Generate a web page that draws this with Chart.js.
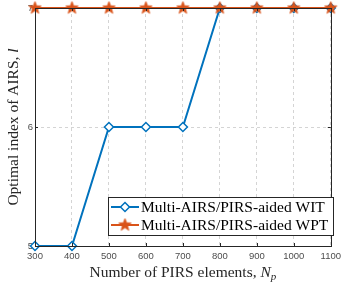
<!DOCTYPE html>
<html>
<head>
<meta charset="utf-8">
<script src="https://cdn.jsdelivr.net/npm/chart.js@4/dist/chart.umd.min.js"></script>
<style>
  html, body { margin: 0; padding: 0; background: #fff; }
  #wrap { width: 346px; height: 286px; }
</style>
</head>
<body>
<div id="wrap"><canvas id="grafica" width="346" height="286"></canvas></div>
<script>
// datos
const elementos = [300, 400, 500, 600, 700, 800, 900, 1000, 1100];
const indiceWIT = [5, 5, 6, 6, 6, 7, 7, 7, 7];
const indiceWPT = [7, 7, 7, 7, 7, 7, 7, 7, 7];
const ticksY = [5, 6, 7];
const nombres = ["Multi-AIRS/PIRS-aided WIT", "Multi-AIRS/PIRS-aided WPT"];

const azul = "#0072BD";
const naranja = "#D95319";

// estrella rellena para WPT
function hacerEstrella(r) {
  const c = document.createElement("canvas");
  const s = Math.ceil(r * 2 + 2);
  c.width = s; c.height = s;
  const g = c.getContext("2d");
  g.translate(s / 2, s / 2);
  g.beginPath();
  for (let i = 0; i < 10; i++) {
    const rr = i % 2 == 0 ? r : r * 0.42;
    const a = -Math.PI / 2 + i * Math.PI / 5;
    g.lineTo(rr * Math.cos(a), rr * Math.sin(a));
  }
  g.closePath();
  g.fillStyle = naranja;
  g.fill();
  g.strokeStyle = naranja;
  g.lineWidth = 0.8;
  g.stroke();
  return c;
}
const estrella = hacerEstrella(6.5);

const serif = "'Liberation Serif', 'DejaVu Serif', serif";
const tam = 15.5;

// caja, marcas interiores, titulos y leyenda
const extras = {
  id: "extras",
  afterDatasetsDraw(chart) {
    const ctx = chart.ctx;
    const a = chart.chartArea;
    const sx = chart.scales.x, sy = chart.scales.y;
    ctx.save();
    ctx.strokeStyle = "#262626";
    ctx.lineWidth = 1;
    ctx.strokeRect(Math.round(a.left) + 0.5, Math.round(a.top) + 0.5, Math.round(a.right - a.left), Math.round(a.bottom - a.top));
    ctx.beginPath();
    elementos.forEach(v => {
      const x = Math.round(sx.getPixelForValue(v)) + 0.5;
      ctx.moveTo(x, a.bottom); ctx.lineTo(x, a.bottom - 3);
      ctx.moveTo(x, a.top); ctx.lineTo(x, a.top + 3);
    });
    ticksY.forEach(v => {
      const y = Math.round(sy.getPixelForValue(v)) + 0.5;
      ctx.moveTo(a.left, y); ctx.lineTo(a.left + 3, y);
      ctx.moveTo(a.right, y); ctx.lineTo(a.right - 3, y);
    });
    ctx.stroke();

    // titulo eje x
    ctx.fillStyle = "#262626";
    ctx.textBaseline = "alphabetic";
    const t1 = "Number of PIRS elements, ";
    ctx.font = "italic " + tam + "px " + serif;
    const wN = ctx.measureText("N").width;
    ctx.font = "italic 11px " + serif;
    const wp = ctx.measureText("p").width;
    ctx.font = tam + "px " + serif;
    const w1 = ctx.measureText(t1).width;
    let x0 = (a.left + a.right) / 2 - (w1 + wN + wp) / 2;
    const yb = 277;
    ctx.textAlign = "left";
    ctx.fillText(t1, x0, yb);
    ctx.font = "italic " + tam + "px " + serif;
    ctx.fillText("N", x0 + w1, yb);
    ctx.font = "italic 11px " + serif;
    ctx.fillText("p", x0 + w1 + wN, yb + 3);

    // titulo eje y
    ctx.save();
    ctx.translate(18, (a.top + a.bottom) / 2);
    ctx.rotate(-Math.PI / 2);
    ctx.font = tam + "px " + serif;
    const t2 = "Optimal index of AIRS, ";
    const w2 = ctx.measureText(t2).width;
    ctx.font = "italic " + tam + "px " + serif;
    const wl = ctx.measureText("l").width;
    const y0 = -(w2 + wl) / 2;
    ctx.font = tam + "px " + serif;
    ctx.fillText(t2, y0, 0);
    ctx.font = "italic " + tam + "px " + serif;
    ctx.fillText("l", y0 + w2, 0);
    ctx.restore();

    // leyenda
    const lx = 108, ly = 197, lw = 225, lh = 38;
    ctx.fillStyle = "#fff";
    ctx.fillRect(lx, ly, lw, lh);
    ctx.strokeStyle = "#262626";
    ctx.strokeRect(lx + 0.5, ly + 0.5, lw, lh);
    const filas = [ly + 10, ly + 28];
    chart.data.datasets.forEach((ds, i) => {
      const y = filas[i];
      ctx.strokeStyle = ds.borderColor;
      ctx.lineWidth = 2;
      ctx.beginPath();
      ctx.moveTo(lx + 3, y); ctx.lineTo(lx + 31, y);
      ctx.stroke();
      const mx = lx + 17;
      if (i == 0) {
        ctx.fillStyle = "#fff";
        ctx.lineWidth = 1.5;
        ctx.beginPath();
        ctx.moveTo(mx, y - 4.5); ctx.lineTo(mx + 4.5, y); ctx.lineTo(mx, y + 4.5); ctx.lineTo(mx - 4.5, y);
        ctx.closePath();
        ctx.fill(); ctx.stroke();
      } else {
        ctx.drawImage(estrella, mx - estrella.width / 2, y - estrella.height / 2);
      }
      ctx.fillStyle = "#000";
      ctx.font = tam + "px " + serif;
      ctx.textBaseline = "middle";
      ctx.fillText(ds.label, lx + 33, y + 1);
    });
    ctx.restore();
  }
};

new Chart(document.getElementById("grafica").getContext("2d"), {
  type: "line",
  data: {
    datasets: [
      {
        label: nombres[0],
        data: elementos.map((x, i) => ({ x: x, y: indiceWIT[i] })),
        borderColor: azul,
        backgroundColor: "#fff",
        borderWidth: 2,
        pointStyle: "rectRot",
        pointRadius: 4.5,
        pointBorderWidth: 1.5,
        clip: false,
        order: 2
      },
      {
        label: nombres[1],
        data: elementos.map((x, i) => ({ x: x, y: indiceWPT[i] })),
        borderColor: naranja,
        backgroundColor: naranja,
        borderWidth: 2,
        pointStyle: estrella,
        pointRadius: 6,
        clip: false,
        order: 1
      }
    ]
  },
  options: {
    responsive: false,
    animation: false,
    layout: { padding: { top: 8, right: 7, left: 0, bottom: 0 } },
    plugins: { legend: { display: false }, tooltip: { enabled: false } },
    scales: {
      x: {
        type: "linear",
        min: 300, max: 1100,
        afterFit: s => { s.height = 40; },
        afterBuildTicks: s => { s.ticks = elementos.map(v => ({ value: v })); },
        grid: { color: "#d4d4d4", drawTicks: false, lineWidth: 1 },
        border: { display: false, dash: [3, 3] },
        ticks: { color: "#4d4d4d", font: { family: "'Liberation Sans', Arial, sans-serif", size: 9.5 }, padding: 5, maxRotation: 0, callback: v => String(v) }
      },
      y: {
        type: "linear",
        min: 5, max: 7,
        afterFit: s => { s.width = 35; },
        afterBuildTicks: s => { s.ticks = ticksY.map(v => ({ value: v })); },
        grid: { color: "#d4d4d4", drawTicks: false, lineWidth: 1 },
        border: { display: false, dash: [3, 3] },
        ticks: { color: "#4d4d4d", font: { family: "'Liberation Sans', Arial, sans-serif", size: 9.5 }, padding: 2, callback: v => String(v) }
      }
    }
  },
  plugins: [extras]
});
</script>
</body>
</html>
